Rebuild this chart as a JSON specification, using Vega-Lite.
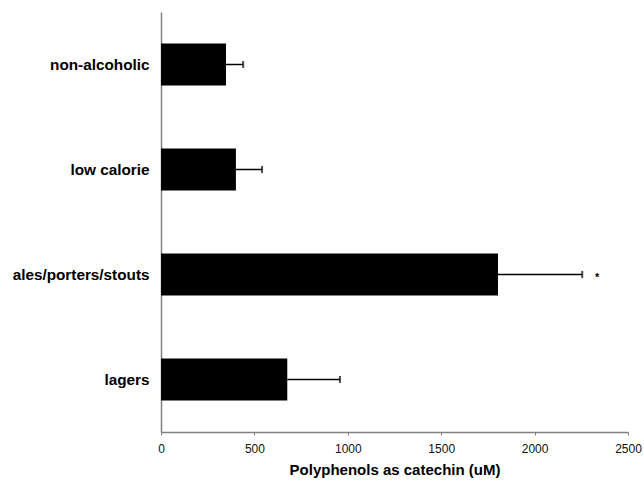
{
  "$schema": "https://vega.github.io/schema/vega-lite/v6.json",
  "width": 467,
  "height": 420,
  "autosize": {"type": "none"},
  "padding": {"left": 161, "top": 12, "right": 16, "bottom": 49},
  "background": "white",
  "config": {"view": {"stroke": null}, "font": "Liberation Sans"},
  "data": {
    "values": [
      {"category": "non-alcoholic", "value": 348, "upper": 440, "star": null},
      {"category": "low calorie", "value": 401, "upper": 541, "star": null},
      {"category": "ales/porters/stouts", "value": 1804, "upper": 2255, "star": 2335},
      {"category": "lagers", "value": 676, "upper": 958, "star": null}
    ]
  },
  "encoding": {
    "y": {
      "field": "category",
      "type": "nominal",
      "sort": ["non-alcoholic", "low calorie", "ales/porters/stouts", "lagers"],
      "scale": {"paddingInner": 0.6, "paddingOuter": 0.3},
      "axis": {
        "title": null,
        "ticks": false,
        "labelFont": "Liberation Sans",
        "labelFontWeight": "bold",
        "labelFontSize": 15.3,
        "labelColor": "#000000",
        "labelPadding": 12,
        "domainColor": "#808080",
        "domainWidth": 1.5
      }
    }
  },
  "layer": [
    {
      "mark": {"type": "bar", "color": "#000000"},
      "encoding": {
        "x": {
          "field": "value",
          "type": "quantitative",
          "scale": {"domain": [0, 2500], "nice": false},
          "axis": {
            "values": [0, 500, 1000, 1500, 2000, 2500],
            "format": "d",
            "grid": false,
            "title": "Polyphenols as catechin (uM)",
            "titleFont": "Liberation Sans",
            "titleFontWeight": "bold",
            "titleFontSize": 15,
            "titleColor": "#000000",
            "titlePadding": 8,
            "labelFont": "Liberation Sans",
            "labelFontSize": 12,
            "labelColor": "#111111",
            "labelPadding": 8,
            "tickSize": 3,
            "tickColor": "#808080",
            "domainColor": "#808080",
            "domainWidth": 1.5,
            "labelFlush": false
          }
        }
      }
    },
    {
      "mark": {"type": "rule", "color": "#000000", "strokeWidth": 1.5},
      "encoding": {
        "x": {"field": "value", "type": "quantitative"},
        "x2": {"field": "upper"}
      }
    },
    {
      "mark": {"type": "tick", "color": "#000000", "thickness": 2, "size": 7},
      "encoding": {
        "x": {"field": "upper", "type": "quantitative"}
      }
    },
    {
      "transform": [{"filter": "datum.star != null"}],
      "mark": {"type": "text", "text": "*", "fontSize": 11, "fontWeight": "bold", "baseline": "middle", "dy": 3, "color": "#000000"},
      "encoding": {
        "x": {"field": "star", "type": "quantitative"}
      }
    }
  ]
}
